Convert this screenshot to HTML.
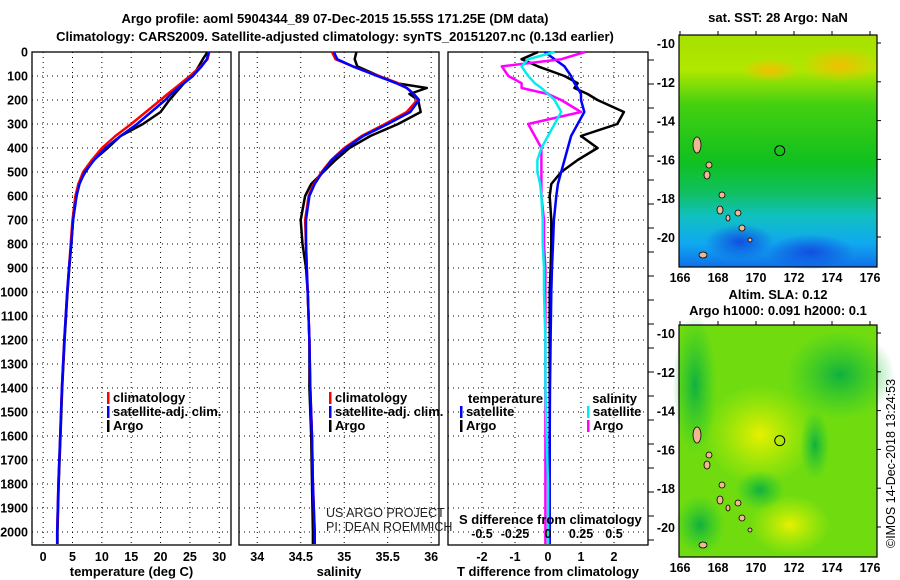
<!DOCTYPE html>
<html><head><meta charset="utf-8"><style>
body{margin:0;background:#fff;}
svg{display:block;font-family:"Liberation Sans",sans-serif;}
.b{font-weight:bold;font-size:13px;}
.t{font-weight:bold;font-size:12.5px;}
</style></head><body>
<svg id="c" width="900" height="580" viewBox="0 0 900 580" xmlns="http://www.w3.org/2000/svg">
<defs>
<linearGradient id="sstg" x1="0" y1="0" x2="0" y2="1">
<stop offset="0" stop-color="#a8e000"/><stop offset="0.15" stop-color="#b0e800"/><stop offset="0.3" stop-color="#44d010"/>
<stop offset="0.55" stop-color="#10c020"/><stop offset="0.68" stop-color="#10c060"/><stop offset="0.78" stop-color="#10c0c0"/>
<stop offset="0.9" stop-color="#10a8f0"/><stop offset="1" stop-color="#1070e8"/></linearGradient>
<radialGradient id="y1"><stop offset="0" stop-color="#e8f000"/><stop offset="1" stop-color="#c8f000" stop-opacity="0"/></radialGradient>
<radialGradient id="g1"><stop offset="0" stop-color="#10b040"/><stop offset="1" stop-color="#20c830" stop-opacity="0"/></radialGradient>
<radialGradient id="o1"><stop offset="0" stop-color="#f0c000"/><stop offset="1" stop-color="#f0c000" stop-opacity="0"/></radialGradient>
<radialGradient id="bl"><stop offset="0" stop-color="#1050e0"/><stop offset="1" stop-color="#1050e0" stop-opacity="0"/></radialGradient>
</defs>
<g id="titles">
<text class="b" x="335" y="23" text-anchor="middle">Argo profile: aoml 5904344_89 07-Dec-2015 15.55S 171.25E (DM data)</text>
<text class="b" x="335" y="41" text-anchor="middle">Climatology: CARS2009. Satellite-adjusted climatology: synTS_20151207.nc (0.13d earlier)</text>
</g>
<g id="plots"></g>
<g id="maps"></g>
</svg>
<script>
// ---- data ----
const depthTicks=[0,100,200,300,400,500,600,700,800,900,1000,1100,1200,1300,1400,1500,1600,1700,1800,1900,2000];
const tempTicks=[0,5,10,15,20,25,30];
const salTicks=[34,34.5,35,35.5,36];
const tdTicks=[-2,-1,0,1,2];
const sdTicks=[-0.5,-0.25,0,0.25,0.5];
const sdTickLabels=["-0.5","-0.25","0","0.25","0.5"];
const depths=[0,30,60,100,130,150,175,200,250,300,350,400,450,500,550,600,700,800,900,1000,1200,1400,1600,1800,2000,2050];
const tempClim=[28.3,28,26.8,25,23.5,22.5,21.2,20,17.5,15,12.3,10,8.3,6.8,6,5.5,5,4.7,4.4,4.1,3.6,3.2,2.9,2.6,2.4,2.4];
const tempSat=[28.2,27.9,27,25.5,24,23,21.8,20.8,18.4,16,13.2,10.6,8.7,7.1,6.2,5.7,5.1,4.8,4.4,4.1,3.6,3.2,2.9,2.6,2.4,2.4];
const tempArgo=[28,27.2,26.5,25.5,24,23.3,22.4,21.5,20,17,13.2,11,8.6,7.2,6,5.6,5.1,4.8,4.45,4.15,3.65,3.25,2.95,2.65,2.45,2.45];
const salClim=[34.86,34.9,35.1,35.4,35.62,35.72,35.8,35.84,35.72,35.47,35.2,35.0,34.85,34.74,34.65,34.59,34.55,34.56,34.57,34.58,34.6,34.61,34.63,34.64,34.66,34.66];
const salSat=[34.88,34.92,35.1,35.38,35.6,35.72,35.8,35.86,35.76,35.5,35.22,35.02,34.86,34.75,34.66,34.6,34.56,34.56,34.57,34.58,34.6,34.61,34.63,34.64,34.66,34.66];
const salArgo=[35.14,35.12,35.15,35.4,35.6,35.95,35.75,35.85,35.88,35.62,35.3,35.06,34.9,34.76,34.62,34.55,34.5,34.52,34.56,34.58,34.6,34.6,34.62,34.63,34.64,34.64];
const tdArgo=[-0.3,-0.8,-0.3,0.5,0.9,0.8,1.2,1.5,2.3,2.1,1.0,1.5,0.9,0.4,0.1,0.05,0.1,0.1,0.08,0.05,0.05,0.05,0.05,0.05,0.05,0.05];
const tdSat=[-0.1,0.2,0.5,0.7,0.8,0.9,1.0,1.0,1.1,0.9,0.7,0.6,0.5,0.4,0.3,0.25,0.18,0.15,0.12,0.1,0.08,0.06,0.05,0.05,0.05,0.05];
const sdArgo=[0.28,0.1,-0.35,-0.3,-0.2,-0.2,0.0,0.1,0.25,-0.15,-0.1,-0.05,-0.05,-0.05,-0.05,-0.05,-0.03,-0.03,-0.02,-0.02,-0.02,-0.02,-0.02,-0.02,-0.02,-0.02];
const sdSat=[0.05,-0.15,-0.2,-0.15,-0.1,-0.05,0.0,0.05,0.1,0.05,0.0,-0.05,-0.08,-0.08,-0.06,-0.05,-0.04,-0.04,-0.03,-0.03,-0.02,-0.02,-0.01,0.0,0.0,0.0];
const lonTicks=[166,168,170,172,174,176];
const latTicks=[-10,-12,-14,-16,-18,-20];
const argoLon=171.25, argoLat=-15.55;

const NS="http://www.w3.org/2000/svg";
function el(tag,attrs,parent){const e=document.createElementNS(NS,tag);for(const k in attrs)e.setAttribute(k,attrs[k]);parent.appendChild(e);return e;}
const plots=document.getElementById('plots');
const yD=d=>52+d*0.24;
const Y0=52,Y1=545;

function panel(name,x0,x1,vmin,vmax,ticks,labels,title,showDepth){
  const xs=v=>x0+(v-vmin)/(vmax-vmin)*(x1-x0);
  const g=el('g',{},plots);
  
  
  ticks.forEach(t=>{el('line',{x1:xs(t),x2:xs(t),y1:Y0,y2:Y1,stroke:'#000','stroke-dasharray':'1 4','stroke-width':1},g);});
  depthTicks.forEach(d=>{el('line',{x1:x0,x2:x1,y1:yD(d),y2:yD(d),stroke:'#000','stroke-dasharray':'1 4','stroke-width':1},g);});
  el('rect',{x:x0,y:Y0,width:x1-x0,height:Y1-Y0,fill:'none',stroke:'#000','stroke-width':1.3},g);
  if(labels){ticks.forEach((t,i)=>{const tx=el('text',{x:xs(t),y:561,'text-anchor':'middle',class:'t'},g);tx.textContent=labels[i];
    });}
  const tt=el('text',{x:(x0+x1)/2,y:576,'text-anchor':'middle',class:'b'},g);tt.textContent=title;
  
  if(showDepth){depthTicks.forEach(d=>{const tx=el('text',{x:28,y:yD(d)+4.5,'text-anchor':'end',class:'t'},g);tx.textContent=d;
    });}
  return {g,xs};
}
function line(p,vals,color,name,w){
  const pts=vals.map((v,i)=>p.xs(v).toFixed(1)+','+yD(depths[i]).toFixed(1)).join(' ');
  const l=el('polyline',{points:pts,fill:'none',stroke:color,'stroke-width':w||2.5,'stroke-linejoin':'round'},p.g);
  
  
}
function legend(g,x,y,items){
  items.forEach((it,i)=>{
    el('rect',{x:x,y:y+i*14-10,width:2.5,height:12,fill:it[1]},g);
    const t=el('text',{x:x+6,y:y+i*14,class:'b'},g);t.textContent=it[0];
    
  });
}
const p1=panel('temperature-panel',32,231,-1.9,32,tempTicks,tempTicks.map(String),'temperature (deg C)',true);
line(p1,tempArgo,'#000','temp-argo-line');line(p1,tempClim,'#f00','temp-clim-line');line(p1,tempSat,'#00f','temp-sat-line');
legend(p1.g,107,402,[['climatology','#f00'],['satellite-adj. clim.','#00f'],['Argo','#000']]);

const p2=panel('salinity-panel',239,439,33.79,36.09,salTicks,['34','34.5','35','35.5','36'],'salinity',false);
line(p2,salArgo,'#000','sal-argo-line');line(p2,salClim,'#f00','sal-clim-line');line(p2,salSat,'#00f','sal-sat-line');
legend(p2.g,329,402,[['climatology','#f00'],['satellite-adj. clim.','#00f'],['Argo','#000']]);
[['US ARGO PROJECT',517],['PI: DEAN ROEMMICH',531]].forEach(a=>{const t=el('text',{x:326,y:a[1],'font-size':'12.5',fill:'#222'},p2.g);t.textContent=a[0];
  });

const p3=panel('difference-panel',448,648,-3.03,3.03,tdTicks,tdTicks.map(String),'T difference from climatology',false);
const xsS=v=>548+v*132;
line(p3,tdArgo,'#000','tdiff-argo-line');line(p3,tdSat,'#00f','tdiff-sat-line');
line({g:p3.g,xs:xsS},sdArgo,'#f0f','sdiff-argo-line');line({g:p3.g,xs:xsS},sdSat,'#0ee','sdiff-sat-line');
depthTicks.forEach(d=>{el('line',{x1:648,x2:654,y1:yD(d)+8,y2:yD(d)+8,stroke:'#000'},p3.g);});
const st=el('text',{x:459,y:524,class:'b'},p3.g);st.textContent='S difference from climatology';

sdTicks.forEach((v,i)=>{const t=el('text',{x:xsS(v),y:538,'text-anchor':'middle',class:'t'},p3.g);t.textContent=sdTickLabels[i];
  });
let t3=el('text',{x:468,y:403,class:'b'},p3.g);t3.textContent='temperature';

legend(p3.g,460,416,[['satellite','#00f'],['Argo','#000']]);
t3=el('text',{x:637,y:403,class:'b','text-anchor':'end'},p3.g);t3.textContent='salinity';

legend(p3.g,587,416,[['satellite','#0ee'],['Argo','#f0f']]);

// ---- maps ----
const maps=document.getElementById('maps');
function map(name,top,kind,title1,title2){
  const L=679,R=877,B=top+232;
  const lx=v=>680+(v-166)*19, ly=v=>top+8+(-10-v)*19.4;
  const g=el('g',{},maps);
  
  
  if(kind==='sst'){
    el('rect',{x:L,y:top,width:R-L,height:B-top,fill:'url(#sstg)'},g);
    el('ellipse',{cx:840,cy:top+30,rx:40,ry:18,fill:'url(#o1)'},g);
    el('ellipse',{cx:770,cy:top+35,rx:30,ry:12,fill:'url(#o1)'},g);
    el('ellipse',{cx:810,cy:B-15,rx:45,ry:18,fill:'url(#bl)'},g);
    el('ellipse',{cx:740,cy:B-25,rx:35,ry:18,fill:'url(#bl)'},g);
  } else {
    el('rect',{x:L,y:top,width:R-L,height:B-top,fill:'#70dc10'},g);
    el('ellipse',{cx:840,cy:top+50,rx:55,ry:45,fill:'url(#g1)'},g);
    el('ellipse',{cx:760,cy:top+110,rx:55,ry:50,fill:'url(#y1)'},g);
    el('ellipse',{cx:790,cy:top+200,rx:40,ry:30,fill:'url(#y1)'},g);
    el('ellipse',{cx:760,cy:top+165,rx:25,ry:20,fill:'url(#g1)'},g);
    el('ellipse',{cx:815,cy:top+120,rx:15,ry:35,fill:'url(#g1)'},g);
    el('ellipse',{cx:695,cy:top+60,rx:22,ry:70,fill:'url(#g1)'},g);
    el('ellipse',{cx:700,cy:top+200,rx:25,ry:30,fill:'url(#g1)'},g);
  }
  [[697,top+110,4,8],[709,top+130,3,3],[707,top+140,3,4],[722,top+160,3,3],[720,top+175,3,4],[728,top+183,2,3],[738,top+178,3,3],[742,top+193,3,3],[750,top+205,2,2],[703,top+220,4,3]].forEach(a=>{
    el('ellipse',{cx:a[0],cy:a[1],rx:a[2],ry:a[3],fill:'#f0b890',stroke:'#000','stroke-width':0.8},g);});
  el('rect',{x:L,y:top,width:R-L,height:B-top,fill:'none',stroke:'#000','stroke-width':1.2},g);
  const c=el('circle',{cx:lx(argoLon),cy:ly(argoLat),r:5,fill:'none',stroke:'#000','stroke-width':1},g);
  
  lonTicks.forEach(v=>{el('line',{x1:lx(v),x2:lx(v),y1:top-4,y2:top,stroke:'#000'},g);
    const t=el('text',{x:lx(v),y:B+15,'text-anchor':'middle',class:'t'},g);t.textContent=v;
    });
  latTicks.forEach(v=>{el('line',{x1:R,x2:R+4,y1:ly(v),y2:ly(v),stroke:'#000'},g);
    const t=el('text',{x:675,y:ly(v)+5,'text-anchor':'end',class:'t'},g);t.textContent=v;
    });
  let t=el('text',{x:778,y:top-(title2?26:13),'text-anchor':'middle',class:'b'},g);t.textContent=title1;
  
  if(title2){t=el('text',{x:778,y:top-10,'text-anchor':'middle',class:'b'},g);t.textContent=title2;
    }
}
map('sst-map',35,'sst','sat. SST: 28 Argo: NaN');
map('sla-map',325,'sla','Altim. SLA: 0.12','Argo h1000: 0.091 h2000: 0.1');
const cp=el('text',{x:0,y:0,'font-size':'12.5',transform:'translate(895,548) rotate(-90)'},maps);
cp.textContent='©IMOS 14-Dec-2018 13:24:53';


</script>
</body></html>
